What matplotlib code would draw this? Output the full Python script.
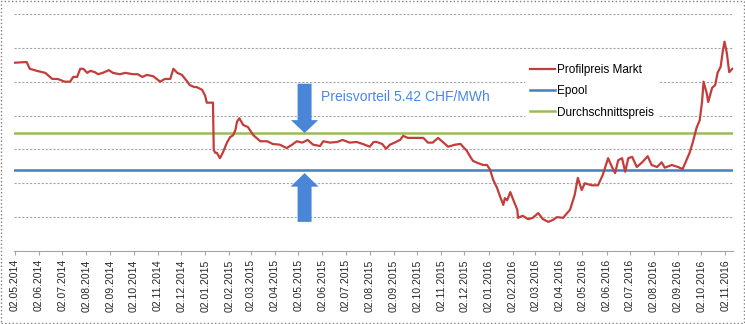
import numpy as np
import pandas as pd
import matplotlib
matplotlib.use("Agg")
import matplotlib.pyplot as plt
import matplotlib.dates as mdates
from matplotlib.patches import FancyArrow, Rectangle

plt.rcParams['font.family'] = ['Liberation Sans', 'DejaVu Sans']

# Profilpreis Markt (days since 02.05.2014, CHF/MWh)
start = pd.Timestamp('2014-05-02')
days = [0, 15, 19, 28, 39, 48, 55, 64, 71, 75, 80, 84, 88, 93, 97, 103, 107, 113,
        121, 126, 135, 142, 152, 158, 164, 170, 178, 187, 193, 200, 204, 209, 215,
        222, 225, 231, 234, 241, 245, 247, 251, 255, 256, 258, 260, 264, 268, 273,
        277, 281, 284, 286, 289, 294, 300, 307, 316, 325, 332, 341, 350, 357, 363,
        370, 377, 384, 393, 397, 406, 415, 422, 431, 440, 448, 457, 462, 466, 473,
        478, 483, 489, 496, 500, 506, 518, 526, 532, 538, 545, 551, 558, 567, 574,
        577, 582, 586, 590, 596, 603, 608, 612, 616, 621, 625, 629, 631, 634, 638,
        641, 647, 648, 654, 661, 667, 674, 680, 687, 693, 698, 706, 715, 721, 725,
        730, 734, 743, 751, 757, 764, 769, 773, 777, 782, 786, 790, 795, 801, 808,
        815, 820, 827, 833, 837, 846, 854, 860, 866, 869, 873, 878, 882, 885, 887,
        891, 893, 898, 902, 905, 909, 912, 914, 917, 920, 924]
markt = [47.8, 47.9, 46.9, 46.6, 46.3, 45.4, 45.4, 45.0, 45.0, 45.7, 45.7, 46.9,
         46.9, 46.3, 46.6, 46.4, 46.1, 46.3, 46.7, 46.3, 46.1, 46.3, 46.1, 46.1,
         45.7, 46.0, 45.8, 45.0, 45.4, 45.4, 46.9, 46.3, 46.0, 45.0, 44.5, 44.2,
         44.2, 43.8, 42.9, 41.9, 41.9, 41.9, 34.9, 34.5, 34.5, 33.7, 34.6, 36.0,
         36.8, 37.1, 37.9, 39.1, 39.6, 38.6, 38.3, 37.1, 36.2, 36.2, 35.8, 35.7,
         35.2, 35.7, 36.2, 36.0, 36.4, 35.7, 35.5, 36.2, 36.0, 36.1, 36.4, 36.0,
         36.1, 35.8, 35.4, 36.1, 36.1, 35.8, 35.1, 35.7, 36.0, 36.4, 37.0, 36.7,
         36.7, 36.7, 36.0, 36.0, 36.7, 36.1, 35.4, 35.7, 35.8, 35.4, 34.8, 34.0,
         33.3, 33.0, 32.7, 32.7, 32.0, 30.5, 29.3, 28.0, 26.8, 27.8, 27.5, 28.7,
         27.8, 26.1, 24.9, 25.2, 24.7, 24.9, 25.6, 24.7, 24.3, 24.6, 25.0, 24.9,
         26.1, 28.3, 30.8, 29.0, 30.0, 29.7, 29.7, 31.2, 33.7, 32.4, 31.5, 33.4,
         33.7, 31.7, 33.7, 33.9, 32.4, 33.1, 34.0, 32.7, 32.4, 33.1, 32.3, 32.7,
         32.4, 32.1, 33.7, 34.5, 36.0, 38.2, 39.3, 42.0, 45.0, 43.3, 42.0, 44.1,
         44.5, 46.3, 47.2, 49.7, 50.9, 49.2, 46.4, 46.9]
epool = 32.0
durchschnitt = 37.42
vorteil_text = 'Preisvorteil 5.42 CHF/MWh'

dates = start + pd.to_timedelta(days, unit='D')

fig = plt.figure(figsize=(7.45, 3.24), dpi=100)
ax = fig.add_axes([0.0188, 0.2253, 0.9652, 0.7317])

ax.plot(dates, markt, color='#c43d3a', lw=1.6, label='Profilpreis Markt', zorder=4)
ax.axhline(epool, color='#4a7cc4', lw=1.8, label='Epool', zorder=3)
ax.axhline(durchschnitt, color='#9bbb59', lw=1.8, label='Durchschnittspreis', zorder=3)

ax.set_ylim(20, 55)
ax.set_yticks(np.arange(20, 56, 5))
ax.yaxis.grid(True, color='#a6a6a6', lw=0.8, ls=(0, (2, 1.5)))
ax.tick_params(axis='y', left=False, labelleft=False)
x0 = mdates.date2num(start)
ax.set_xlim(x0 - 1.3, x0 + 925)

ax.xaxis.set_major_locator(mdates.MonthLocator(bymonthday=2))
ax.xaxis.set_major_formatter(mdates.DateFormatter('%d.%m.%Y'))
ax.tick_params(axis='x', direction='out', length=3, color='#a6a6a6',
               labelsize=7.5, labelrotation=90, pad=3, labelcolor='#262626')
for s in ['left', 'right', 'top']:
    ax.spines[s].set_visible(False)
ax.spines['bottom'].set_color('#a6a6a6')
ax.set_axisbelow(True)

# arrows and label for the price advantage
ax_x = x0 + 373
ax.add_patch(FancyArrow(ax_x, 44.7, 0, durchschnitt - 44.7, width=18, head_width=35,
                        head_length=1.9, length_includes_head=True,
                        color='#4a86d8', lw=0, zorder=5))
ax.add_patch(FancyArrow(ax_x, 24.3, 0, epool - 0.5 - 24.3, width=18, head_width=36,
                        head_length=2.0, length_includes_head=True,
                        color='#4a86d8', lw=0, zorder=5))
ax.text(x0 + 394, 42.8, vorteil_text, color='#4a86e8', fontsize=10, va='center')

leg = ax.legend(loc='upper left', bbox_to_anchor=(0.703, 0.835), fontsize=8.5,
                frameon=True, fancybox=False, edgecolor='none', facecolor='white',
                framealpha=1, handlelength=2.1, handletextpad=0.15, labelspacing=0.8,
                borderpad=0.4)
leg.set_zorder(6)

fig.patches.append(Rectangle((0.002, 0.003), 0.996, 0.994, transform=fig.transFigure,
                             fill=False, ls=':', ec='#808080', lw=1))

fig.savefig('out.png', dpi=100)
